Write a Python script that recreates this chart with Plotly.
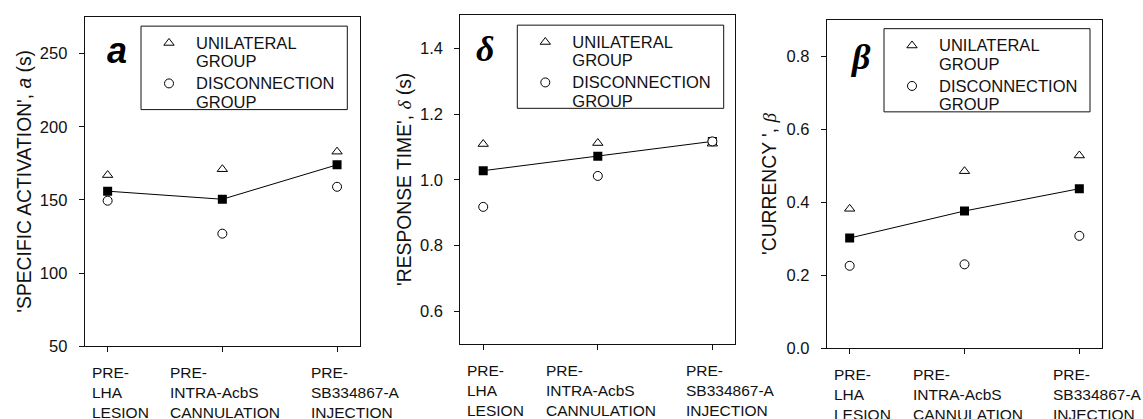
import plotly.graph_objects as go

# Experimental phases (x categories)
phases = ["PRE-<br>LHA<br>LESION",
          "PRE-<br>INTRA-AcbS<br>CANNULATION",
          "PRE-<br>SB334867-A<br>INJECTION"]
phase_pos = [0, 1, 2]

# Parameter a (s)
a_unilateral = [167, 171, 183]
a_disconnection = [149.5, 127, 159]
a_mean = [156, 150.5, 174]

# Parameter delta (s)
delta_unilateral = [1.109, 1.112, 1.11]
delta_disconnection = [0.918, 1.012, 1.117]
delta_mean = [1.028, 1.072, 1.117]

# Parameter beta
beta_unilateral = [0.382, 0.485, 0.528]
beta_disconnection = [0.226, 0.23, 0.308]
beta_mean = [0.302, 0.376, 0.437]

group_names = ["UNILATERAL<br>GROUP", "DISCONNECTION<br>GROUP"]

W, H = 1143, 419
SANS = "Arial, Liberation Sans, Helvetica, sans-serif"
SERIF = "Times New Roman, Liberation Serif, serif"
INK = "#111"

# pixel boxes of the three plot areas: (left, right, top, bottom)
boxes = [(84.7, 360.0, 17.3, 354.0),
         (460.3, 735.3, 15.7, 352.0),
         (826.7, 1102.3, 20.0, 356.0)]

# pixel frames of the three legends: (left, right, top, bottom)
legend_frames = [(141.0, 347.3, 26.7, 112.0),
                 (517.3, 723.7, 25.7, 110.7),
                 (884.0, 1090.0, 29.3, 114.3)]

panels = [
    dict(uni=a_unilateral, dis=a_disconnection, mean=a_mean,
         yrange=[50, 275], tick0=50, dtick=50, fmt="d",
         title="'SPECIFIC ACTIVATION', <i>a</i> (s)", title_x=25,
         letter="<b><i>a</i></b>", letter_font=SANS, letter_xy=(117, 52)),
    dict(uni=delta_unilateral, dis=delta_disconnection, mean=delta_mean,
         yrange=[0.5, 1.5], tick0=0.6, dtick=0.2, fmt=".1f",
         title="'RESPONSE TIME', <span style=\"font-family:%s\"><i>\u03b4</i></span> (s)" % SERIF,
         title_x=405,
         letter="<b><i>\u03b4</i></b>", letter_font=SERIF, letter_xy=(485, 50)),
    dict(uni=beta_unilateral, dis=beta_disconnection, mean=beta_mean,
         yrange=[0, 0.9], tick0=0, dtick=0.2, fmt=".1f",
         title="'CURRENCY ', <span style=\"font-family:%s\"><i>\u03b2</i></span>" % SERIF,
         title_x=770,
         letter="<b><i>\u03b2</i></b>", letter_font=SERIF, letter_xy=(860, 58)),
]

# left-edge offsets (px) of the phase labels relative to their tick
label_shift = [-18, -54, -28]


def legend_label(name):
    # larger glyphs on a tighter line pitch
    return "<br>".join('<span style="font-size:16.5px">%s</span>' % s
                       for s in name.split("<br>"))


fig = go.Figure()
annotations = []
shapes = []
layout = {}

for i, p in enumerate(panels):
    n = "" if i == 0 else str(i + 1)
    xa, ya = "x" + n, "y" + n
    leg = "legend" + n
    left, right, top, bottom = boxes[i]

    fig.add_trace(go.Scatter(
        x=phase_pos, y=p["mean"], xaxis=xa, yaxis=ya, mode="lines+markers",
        line=dict(color="black", width=1),
        marker=dict(symbol="square", size=9, color="black"),
        showlegend=False, hoverinfo="skip"))
    fig.add_trace(go.Scatter(
        x=phase_pos, y=p["uni"], xaxis=xa, yaxis=ya, mode="markers",
        name=legend_label(group_names[0]), legend=leg,
        marker=dict(symbol="triangle-up", size=9, color="white",
                    line=dict(color="black", width=1))))
    fig.add_trace(go.Scatter(
        x=phase_pos, y=p["dis"], xaxis=xa, yaxis=ya, mode="markers",
        name=legend_label(group_names[1]), legend=leg,
        marker=dict(symbol="circle", size=9, color="white",
                    line=dict(color="black", width=1))))

    axis_common = dict(showline=True, linecolor=INK, linewidth=1, mirror=True,
                       showgrid=False, zeroline=False, ticks="outside",
                       ticklen=5, tickcolor=INK, tickwidth=1)
    layout["xaxis" + n] = dict(
        axis_common, domain=[left / W, right / W], anchor=ya,
        range=[-0.2, 2.2], tickvals=phase_pos, showticklabels=False)
    layout["yaxis" + n] = dict(
        axis_common, domain=[1 - bottom / H, 1 - top / H], anchor=xa,
        range=p["yrange"], tick0=p["tick0"], dtick=p["dtick"],
        tickformat=p["fmt"], ticklabelstandoff=8,
        tickfont=dict(family=SANS, size=16.5, color=INK))

    # legend frame drawn as a rectangle; legend itself is borderless
    fl, fr, ft, fb = legend_frames[i]
    shapes.append(dict(
        type="rect", xref="paper", yref="paper",
        x0=fl / W, x1=fr / W, y0=1 - fb / H, y1=1 - ft / H,
        line=dict(color=INK, width=1), fillcolor="white", layer="below"))
    layout[leg] = dict(
        x=(fl + 1) / W, y=1 - (ft + 1) / H, xanchor="left", yanchor="top",
        borderwidth=0, bgcolor="rgba(0,0,0,0)",
        font=dict(family=SANS, size=14.4, color=INK),
        itemwidth=44, valign="top", tracegroupgap=0)

    # y-axis title
    annotations.append(dict(
        text=p["title"], textangle=-90, xref="paper", yref="paper",
        x=p["title_x"] / W, y=1 - (top + bottom) / 2 / H,
        xanchor="center", yanchor="middle", showarrow=False,
        font=dict(family=SANS, size=19.3, color=INK)))

    # panel letter
    px, py = p["letter_xy"]
    annotations.append(dict(
        text=p["letter"], xref="paper", yref="paper", x=px / W, y=1 - py / H,
        xanchor="center", yanchor="middle", showarrow=False,
        font=dict(family=p["letter_font"], size=36, color="black")))

    # phase labels under each tick
    for k, lab in enumerate(phases):
        annotations.append(dict(
            text=lab, xref=xa, yref="paper", x=phase_pos[k], y=1 - bottom / H,
            xanchor="left", yanchor="top", align="left", xshift=label_shift[k],
            yshift=-16, showarrow=False,
            font=dict(family=SANS, size=15.5, color=INK)))

fig.update_layout(
    width=W, height=H, margin=dict(l=0, r=0, t=0, b=0),
    paper_bgcolor="white", plot_bgcolor="white",
    annotations=annotations, shapes=shapes, **layout)

fig.write_html("out.html")
